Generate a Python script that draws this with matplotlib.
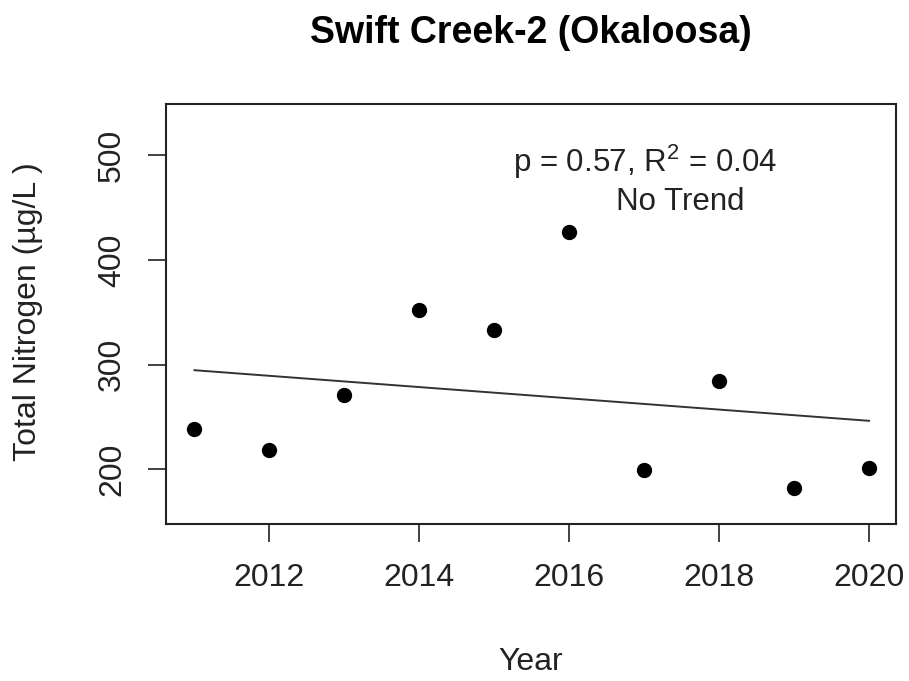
import numpy as np
import matplotlib
matplotlib.use("Agg")
import matplotlib.pyplot as plt

years = [2011, 2012, 2013, 2014, 2015, 2016, 2017, 2018, 2019, 2020]
tn = [238.4, 218.7, 270.8, 351.9, 332.8, 427.2, 199.3, 284.2, 182.2, 201.2]
xticks = [2012, 2014, 2016, 2018, 2020]
yticks = [200, 300, 400, 500]
title = "Swift Creek-2 (Okaloosa)"
xlabel = "Year"
ylabel = "Total Nitrogen (\u00b5g/L )"
stat_text = r"p = 0.57, R$^2$ = 0.04"
trend_text = "No Trend"

plt.rcParams['font.family'] = ['Liberation Sans', 'DejaVu Sans']
plt.rcParams['mathtext.fontset'] = 'custom'
plt.rcParams['mathtext.rm'] = 'Liberation Sans'

W, H = 909, 681
fig = plt.figure(figsize=(W / 100, H / 100), dpi=100)
l, r, t, b = 166, 896, 104, 524
ax = fig.add_axes([l / W, 1 - b / H, (r - l) / W, (b - t) / H])

x = np.array(years, dtype=float)
y = np.array(tn)
ax.plot(x, y, 'o', color='black', markersize=10, zorder=3)
coef = np.polyfit(x, y, 1)
ax.plot([x.min(), x.max()], np.polyval(coef, [x.min(), x.max()]), color='#333333', lw=1.4)

ax.set_xlim(2010.62, 2020.36)
ax.set_ylim(147.9, 549.2)
ax.set_xticks(xticks)
ax.set_yticks(yticks)
ax.set_xticklabels([str(v) for v in xticks], fontsize=23, color='#222222')
ax.set_yticklabels([str(v) for v in yticks], fontsize=23, color='#222222', rotation=90, va='center')
ax.tick_params(axis='both', length=13, width=1.3, color='#333333')
ax.tick_params(axis='x', pad=15)
ax.tick_params(axis='y', pad=15)
for s in ax.spines.values():
    s.set_linewidth(1.5)
    s.set_color('#222222')

ax.text(2017.01, 493.9, stat_text, fontsize=22.5, ha='center', va='center', color='#222222')
ax.text(2017.48, 455.8, trend_text, fontsize=22.5, ha='center', va='center', color='#222222')

fig.text((l + r) / 2 / W, 1 - 33 / H, title, fontsize=27, fontweight='bold', ha='center', va='center')
fig.text((l + r) / 2 / W, 1 - 662 / H, xlabel, fontsize=23, ha='center', va='center', color='#222222')
fig.text(28 / W, 1 - 312 / H, ylabel, fontsize=23, ha='center', va='center', rotation=90, color='#222222')

fig.savefig("out.png", dpi=100)
